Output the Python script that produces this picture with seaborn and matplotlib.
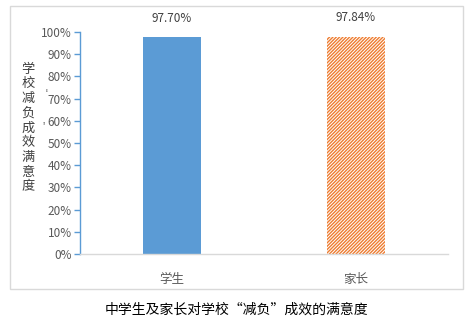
import matplotlib
matplotlib.use("Agg")
import matplotlib.pyplot as plt
import seaborn as sns
import pandas as pd
from matplotlib.patches import Rectangle
from matplotlib.ticker import FuncFormatter

categories = ["学生", "家长"]
values = [0.9770, 0.9784]
value_labels = ["97.70%", "97.84%"]
ylabel_text = "学校“减负”成效满意度"
title_text = "中学生及家长对学校“减负”成效的满意度"

sns.set_theme(style="white")
plt.rcParams['font.family'] = ['Noto Sans CJK SC', 'DejaVu Sans']
plt.rcParams['hatch.linewidth'] = 1.0

W, H = 469, 327
fig = plt.figure(figsize=(W/100, H/100), dpi=100)
ax = fig.add_axes([80/W, 1-254/H, (448-80)/W, (254-32)/H])

df = pd.DataFrame({"cat": categories, "val": values})
blue = "#5B9BD5"
orange = "#ED7D31"
sns.barplot(data=df, x="cat", y="val", ax=ax, width=0.315,
            palette=[blue, orange], hue="cat", legend=False, saturation=1)

p2 = ax.patches[1]
p2.set_facecolor("white")
p2.set_edgecolor(orange)
p2.set_hatch("//////////")
p2.set_linewidth(0)
ax.patches[0].set_linewidth(0)

for i, (v, lab) in enumerate(zip(values, value_labels)):
    ax.annotate(lab, (i, v), xytext=(0, 9), textcoords="offset points",
                ha="center", va="bottom", fontsize=8.5, color="#404040")

ax.set_ylim(0, 1)
ax.set_xlim(-0.5, 1.5)
ax.set_yticks([i/10 for i in range(11)])
ax.yaxis.set_major_formatter(FuncFormatter(lambda v, p: f"{v*100:.0f}%"))
ax.tick_params(axis="y", which="both", left=True, length=4, width=1, color=blue,
               labelsize=8.5, labelcolor="#595959", pad=2)
ax.tick_params(axis="x", bottom=False, labelsize=9, labelcolor="#595959", pad=8)
ax.set_xlabel("")
ax.set_ylabel("")
for s in ["top", "right"]:
    ax.spines[s].set_visible(False)
ax.spines["left"].set_color(blue)
ax.spines["left"].set_linewidth(1)
ax.spines["bottom"].set_color("#D9D9D9")
ax.spines["bottom"].set_linewidth(1)

# outer border
fig.patches.append(Rectangle((10/W, 1-289/H), (463-10)/W, (289-6)/H,
                             transform=fig.transFigure, fill=False,
                             edgecolor="#D9D9D9", linewidth=1))

# vertical y label (stacked characters)
chars = [c for c in ylabel_text if c not in "“”"]
y0, step = 69, 14.75
for k, c in enumerate(chars):
    fig.text(28/W, 1-(y0+k*step)/H, c, ha="center", va="center",
             fontsize=9.5, color="#404040")
fig.text(38.5/W, 1-91/H, "“", ha="center", va="center", fontsize=5,
         color="#404040", rotation=-90)
fig.text(38.5/W, 1-124/H, "”", ha="center", va="center", fontsize=5,
         color="#404040", rotation=-90)

fig.text(236/W, 1-310/H, title_text, ha="center", va="center",
         fontsize=10, color="#000000")

fig.savefig("out.png", dpi=100, facecolor="white")
